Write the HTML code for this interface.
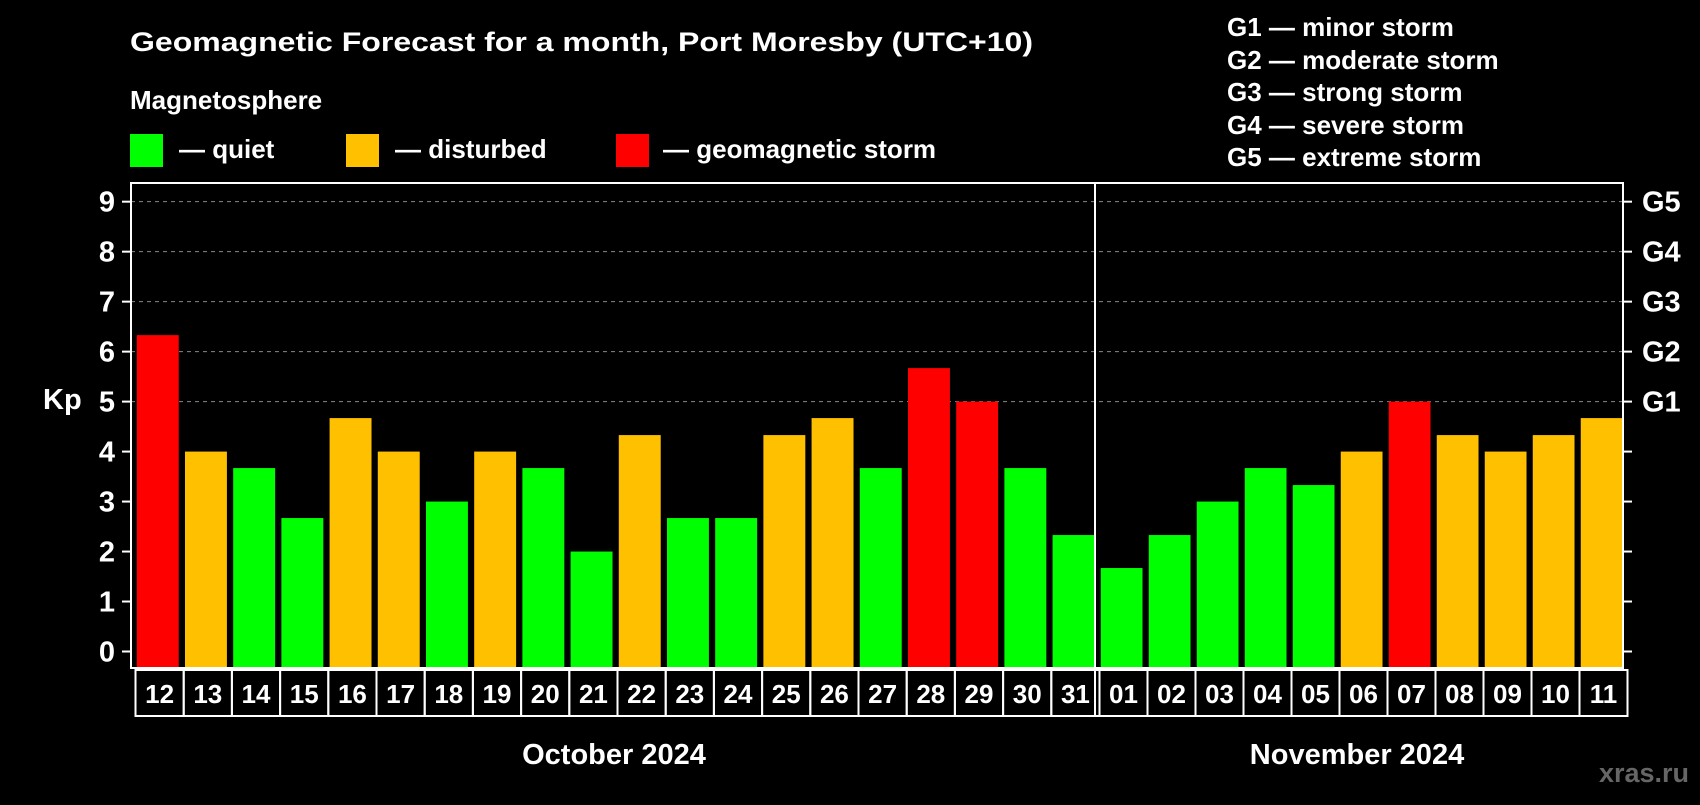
<!DOCTYPE html>
<html><head><meta charset="utf-8"><style>
body{margin:0;background:#000;width:1700px;height:800px;overflow:hidden;font-family:"Liberation Sans",sans-serif;font-weight:bold;color:#fff}
</style></head><body>
<svg width="1700" height="800" xmlns="http://www.w3.org/2000/svg" font-family="Liberation Sans, sans-serif" font-weight="bold">
<text x="130" y="51" font-size="27" fill="#fff" textLength="903" lengthAdjust="spacingAndGlyphs">Geomagnetic Forecast for a month, Port Moresby (UTC+10)</text>
<text x="130" y="109" font-size="26" fill="#fff">Magnetosphere</text>
<rect x="130" y="134" width="33" height="33" fill="#00ff00"/>
<text x="179" y="158" font-size="26" fill="#fff">— quiet</text>
<rect x="346" y="134" width="33" height="33" fill="#ffc000"/>
<text x="395" y="158" font-size="26" fill="#fff">— disturbed</text>
<rect x="616" y="134" width="33" height="33" fill="#ff0000"/>
<text x="663" y="158" font-size="26" fill="#fff">— geomagnetic storm</text>
<g font-size="26" fill="#fff">
<text x="1227" y="36">G1 — minor storm</text>
<text x="1227" y="69">G2 — moderate storm</text>
<text x="1227" y="101">G3 — strong storm</text>
<text x="1227" y="134">G4 — severe storm</text>
<text x="1227" y="166">G5 — extreme storm</text>
</g>
<text x="43" y="409" font-size="29" fill="#fff">Kp</text>
<g id="plot"></g>
<text x="614" y="764" font-size="29" text-anchor="middle" fill="#fff">October 2024</text>
<text x="1357" y="764" font-size="29" text-anchor="middle" fill="#fff">November 2024</text>
<text x="1689" y="782" font-size="27" text-anchor="end" fill="#666">xras.ru</text>
</svg>
<script>
const octDays=["12","13","14","15","16","17","18","19","20","21","22","23","24","25","26","27","28","29","30","31"];
const octKp=[6.33,4,3.67,2.67,4.67,4,3,4,3.67,2,4.33,2.67,2.67,4.33,4.67,3.67,5.67,5,3.67,2.33];
const novDays=["01","02","03","04","05","06","07","08","09","10","11"];
const novKp=[1.67,2.33,3,3.67,3.33,4,5,4.33,4,4.33,4.67];
const yTicks=[0,1,2,3,4,5,6,7,8,9];
const gLabels={5:"G1",6:"G2",7:"G3",8:"G4",9:"G5"};
const NS="http://www.w3.org/2000/svg";
const g=document.getElementById('plot');
const L=131,R=1623,T=183,B=668,D=1095;
const y=v=>651.5-v*49.98;
function mk(t,a){const e=document.createElementNS(NS,t);for(const k in a)e.setAttribute(k,a[k]);g.appendChild(e);return e;}
yTicks.forEach(v=>{
  if(v>=5){const l=mk('line',{x1:L,x2:R,y1:y(v),y2:y(v),stroke:'#888','stroke-dasharray':'4,4','stroke-width':1});
  
  }
  const t1=mk('line',{x1:L-9,x2:L,y1:y(v),y2:y(v),stroke:'#fff','stroke-width':2});
  
  
  const t2=mk('line',{x1:R,x2:R+9,y1:y(v),y2:y(v),stroke:'#fff','stroke-width':2});
  
  
  const tx=mk('text',{x:115,y:y(v)+10,'font-size':29,'text-anchor':'end',fill:'#fff'});tx.textContent=v;
  
  
  if(gLabels[v]){const gt=mk('text',{x:1642,y:y(v)+10,'font-size':29,fill:'#fff'});gt.textContent=gLabels[v];
  
  }
});
const col=v=>v>=5?'#ff0000':(v>=4?'#ffc000':'#00ff00');
function series(days,vals,x0,x1,name){
  const p=(x1-x0)/days.length;
  days.forEach((d,i)=>{
    const cx=x0+p*i;
    const r=mk('rect',{x:cx+p*0.12,y:y(vals[i]),width:p*0.87,height:B-1-y(vals[i]),fill:col(vals[i])});
    
    
    const c=mk('rect',{x:cx+4.5,y:670,width:p,height:46,fill:'none',stroke:'#fff','stroke-width':2});
    
    
    const t=mk('text',{x:cx+4.5+p/2,y:703,'font-size':26,'text-anchor':'middle',fill:'#fff'});t.textContent=d;
    
    
  });
}
series(octDays,octKp,L,D,'oct');
series(novDays,novKp,D,R,'nov');
const f=mk('rect',{x:L,y:T,width:R-L,height:B-T,fill:'none',stroke:'#fff','stroke-width':2});


const dv=mk('line',{x1:D,x2:D,y1:T,y2:716,stroke:'#fff','stroke-width':2});


</script>
</body></html>
